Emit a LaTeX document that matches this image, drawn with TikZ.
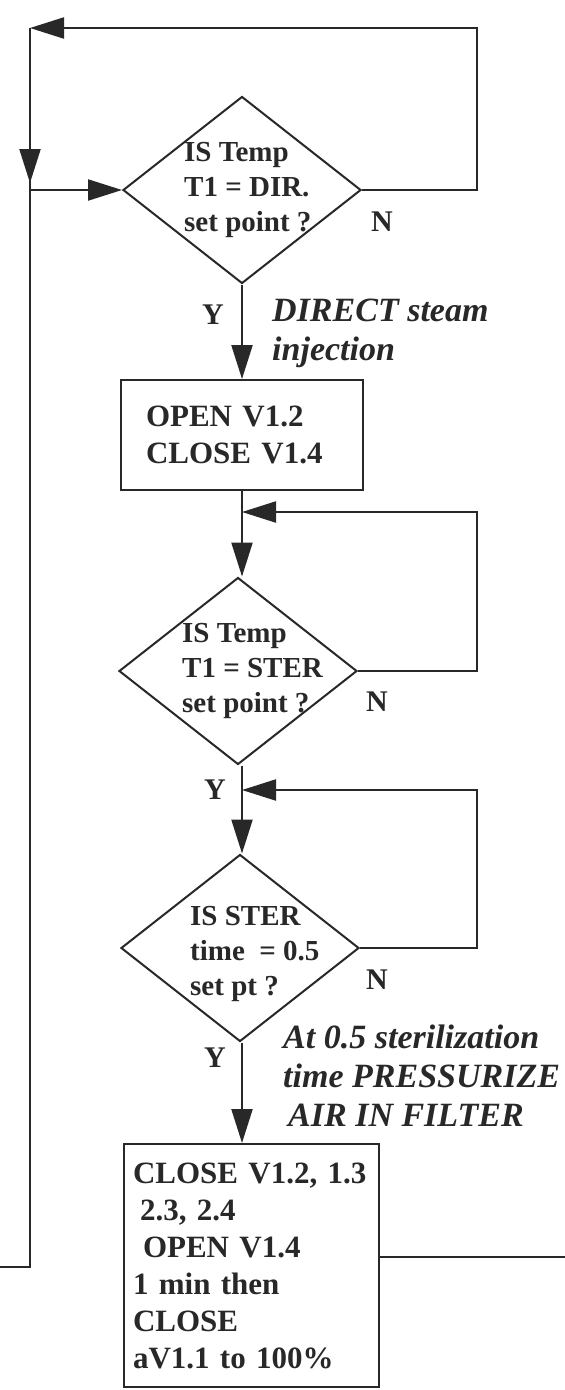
\documentclass[tikz,border=0pt]{standalone}
\usepackage{fontspec}
\setmainfont{Liberation Serif}
\usetikzlibrary{shapes.geometric,arrows.meta}
\definecolor{ink}{RGB}{40,40,40}
\begin{document}
\begin{tikzpicture}[x=1pt,y=-1pt,
  ln/.style={draw=ink,line width=2.2pt},
  arr/.style={ln,-{Triangle[length=34pt,width=21pt]}},
  dia/.style={diamond,draw=ink,line width=2pt,minimum width=238pt,minimum height=187pt,inner sep=0pt},
  dtxt/.style={anchor=west,align=left,font=\bfseries\fontsize{29}{35}\selectfont,text=ink,inner sep=0pt},
  box/.style={rectangle,draw=ink,line width=2pt,align=left,font=\bfseries\fontsize{31}{37}\selectfont,text=ink},
  lbl/.style={font=\bfseries\fontsize{30}{36}\selectfont,text=ink,inner sep=0pt},
  note/.style={anchor=west,align=left,font=\bfseries\itshape\fontsize{34}{39}\selectfont,text=ink,inner sep=0pt}]
\useasboundingbox[fill=white] (0,0) rectangle (565,1390);

% decisions
\node[dia] (d1) at (242,190) {};
\node[dtxt] (d1t) at (184,190) {IS Temp\\T1 = DIR.\\set point ?};
\node[dia] (d2) at (238,671) {};
\node[dtxt] (d2t) at (182,671) {IS Temp\\T1 = STER\\set point ?};
\node[dia] (d3) at (240,948) {};
\node[dtxt] (d3t) at (190,954) {IS STER\\time \ = 0.5\\set pt ?};

% boxes
\node[box,minimum width=242pt,minimum height=110pt,text width=192pt,inner xsep=25pt] (b1) at (242,435) {OPEN V1.2\\CLOSE V1.4};
\node[box,minimum width=255pt,minimum height=243pt,text width=237pt,inner xsep=9pt] (b2) at (251.5,1265.5)
  {CLOSE V1.2, 1.3\\\hspace*{7pt}2.3, 2.4\\\hspace*{10pt}OPEN V1.4\\1 min then\\CLOSE\\aV1.1 to 100\%};

% labels
\node[lbl] (n1) at (382,222) {N};
\node[lbl] (n2) at (377,702) {N};
\node[lbl] (n3) at (377,980) {N};
\node[lbl] (y1) at (213,315) {Y};
\node[lbl] (y2) at (215,790) {Y};
\node[lbl] (y3) at (215,1058) {Y};
\node[note] (t1) at (272,333) {DIRECT steam\\injection};
\node[note] (t2) at (283,1076) {At 0.5 sterilization\\time PRESSURIZE\\\hspace*{5pt}AIR IN FILTER};

% coordinates
\coordinate (cTL) at (30,28);
\coordinate (cTR) at (477,28);
\coordinate (cA) at (30,183);
\coordinate (cJ) at (30,190);
\coordinate (cBL) at (30,1267);
\coordinate (cEL) at (0,1267);
\coordinate (cER) at (565,1257);
\coordinate (cL2) at (477,512);
\coordinate (cM2) at (242,512);
\coordinate (cL3) at (477,790);
\coordinate (cM3) at (242,790);

% connectors
\draw[arr] (d1.east) -| (cTR) -- (cTL);
\draw[ln] (cTL) -- (cBL) -- (cEL);
\draw[arr] (cTL) -- (cA);
\draw[arr] (cJ) -- (d1.west);
\draw[arr] (d1.south) -- (b1.north);
\draw[arr] (b1.south) -- (d2.north -| b1.south);
\draw[arr] (d2.east) -| (cL2) -- (cM2);
\draw[arr] (d2.south -| b1.south) -- (d3.north -| b1.south);
\draw[arr] (d3.east) -| (cL3) -- (cM3);
\draw[arr] (d3.south -| b1.south) -- (b2.north -| b1.south);
\draw[ln] (b2.east |- cER) -- (cER);
\end{tikzpicture}
\end{document}
